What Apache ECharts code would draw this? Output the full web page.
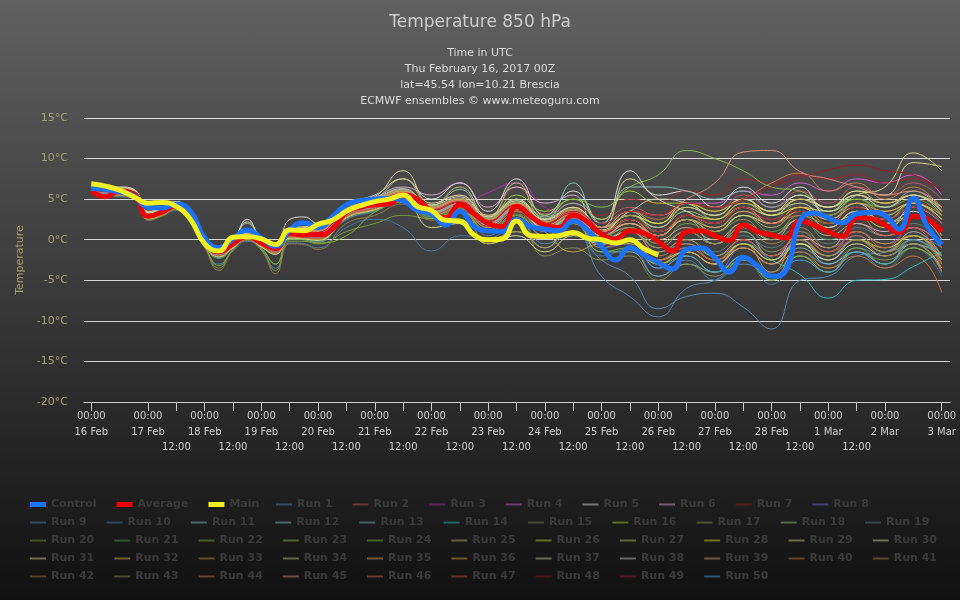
<!DOCTYPE html>
<html>
<head>
<meta charset="utf-8">
<title>Temperature 850 hPa</title>
<script src="https://cdn.jsdelivr.net/npm/echarts@6/dist/echarts.min.js"></script>
<style>
    html, body { margin: 0; padding: 0; background: #101010; }
    #chart { width: 960px; height: 600px; background: linear-gradient(to bottom, rgb(96,96,96) 0%, rgb(16,16,16) 100%); }
</style>
</head>
<body>
<div id="chart"></div>
<script type="text/javascript">
    var TITLE = 'Temperature 850 hPa';
    var SUBTITLE = ['Time in UTC', 'Thu February 16, 2017 00Z', 'lat=45.54 lon=10.21 Brescia', 'ECMWF ensembles \u00a9 www.meteoguru.com'];
    var DAY_LABELS = ['16 Feb', '17 Feb', '18 Feb', '19 Feb', '20 Feb', '21 Feb', '22 Feb', '23 Feb', '24 Feb',
        '25 Feb', '26 Feb', '27 Feb', '28 Feb', '1 Mar', '2 Mar', '3 Mar'];

    // forecast hours (6-hourly for Control / Average / Main)
    var HOURS_6 = [0, 6, 12, 18, 24, 30, 36, 42, 48, 54, 60, 66, 72, 78, 84, 90, 96, 102, 108, 114, 120, 126, 132, 138,
        144, 150, 156, 162, 168, 174, 180, 186, 192, 198, 204, 210, 216, 222, 228, 234, 240, 246, 252, 258, 264, 270,
        276, 282, 288, 294, 300, 306, 312, 318, 324, 330, 336, 342, 348, 354, 360];
    // forecast hours for ensemble runs
    var RUN_HOURS = [0, 6, 12, 18, 24, 30, 36, 42, 48, 54, 60, 66, 72, 78, 84, 90, 96, 108, 120, 132, 144, 156, 168,
        180, 192, 204, 216, 228, 240, 252, 264, 276, 288, 300, 312, 324, 336, 348, 360];

    var CONTROL = [6.3, 6.2, 5.9, 5.4, 4.0, 3.9, 4.4, 3.5, 0.2, -1.0, 0.1, 1.2, 0.2, -0.8, 1.2, 2.1, 1.5, 2.8, 4.3, 4.8,
        5.0, 5.1, 4.8, 3.6, 3.2, 1.8, 3.5, 1.6, 1.1, 1.0, 2.5, 1.6, 1.3, 1.1, 2.3, 1.2, -0.8, -2.5, -1.0, -1.9, -2.8,
        -3.6, -1.2, -1.0, -2.2, -4.0, -2.2, -3.2, -4.5, -3.8, 2.3, 3.3, 2.7, 2.1, 3.2, 3.4, 3.0, 1.3, 5.1, 1.6, -0.6];
    var AVERAGE = [6.0, 5.3, 6.0, 5.6, 2.9, 3.4, 4.2, 2.8, -0.3, -1.5, -0.5, 0.4, -0.4, -1.1, 0.8, 0.6, 0.6, 1.3, 3.4,
        4.0, 4.3, 4.4, 5.5, 5.0, 3.5, 2.7, 4.3, 3.2, 2.0, 1.6, 4.1, 2.9, 1.8, 1.5, 3.0, 2.2, 0.7, 0.1, 1.1, 0.8, -0.2,
        -1.4, 1.0, 1.1, 0.5, -0.1, 1.8, 1.0, 0.6, 0.2, 2.3, 1.8, 1.0, 0.4, 2.7, 2.6, 1.8, 0.9, 2.9, 2.5, 1.0];
    var MAIN = [6.9, 6.6, 6.1, 5.3, 4.5, 4.6, 4.1, 2.5, -0.5, -1.4, 0.3, 0.4, 0.1, -0.6, 1.2, 1.1, 1.9, 2.4, 3.5, 4.2,
        4.7, 5.0, 5.5, 4.1, 3.6, 2.4, 2.3, 0.6, 0.0, 0.1, 2.3, 0.5, 0.4, 0.5, 0.9, 0.2, 0.0, -0.4, 0.0, -1.1, -1.9];

    var RUN_01 = [6.2,5.9,5.8,5.6,2.8,3.2,4.0,2.6,-0.5,-1.9,-0.8,0.6,-0.6,-1.5,0.5,0.9,0.4, 3.0,4.0,5.6,3.2,3.8,1.5,3.0,0.5,0.8,-2.5,-4.5,-8.5,-7.0,-6.6,-8.3,-11.0,-5.0,-4.5,-2.0,-1.5,0.5,-1.0];
    var RUN_02 = [6.4,6.0,6.1,5.9,3.1,3.5,4.4,3.0,0.0,-1.2,-0.3,0.9,-0.2,-0.9,1.0,1.2,1.0, 3.8,4.6,6.0,4.0,5.5,3.0,6.5,3.2,4.5,2.5,4.0,3.0,4.5,3.5,5.5,4.0,6.0,4.5,6.5,5.5,7.0,5.0];
    var RUN_03 = [6.0,5.7,5.6,5.7,2.7,3.3,4.1,2.7,-0.4,-1.6,-0.6,0.3,-0.5,-1.2,0.7,0.5,0.4, 3.2,4.0,5.2,3.8,4.2,5.8,7.0,4.0,3.0,0.8,1.5,-1.5,-0.5,-2.0,0.0,-2.5,0.0,-2.5,0.5,-1.5,1.0,-2.0];
    var RUN_04 = [6.1,5.9,5.9,5.8,3.0,3.5,4.3,2.9,-0.2,-1.4,-0.4,0.5,-0.3,-1.0,0.9,0.7,0.8, 3.5,4.5,5.8,3.6,4.8,2.2,4.0,1.5,3.2,1.5,3.0,2.0,4.5,4.5,6.0,5.5,7.0,6.0,7.5,7.0,8.0,5.5];
    var RUN_05 = [6.6,6.4,6.5,6.2,3.5,3.9,4.7,3.3,0.4,-1.0,0.0,2.5,0.1,-0.7,2.5,2.8,2.0, 4.5,5.5,7.5,5.0,7.0,3.5,7.5,3.0,6.0,2.0,8.5,5.5,6.0,4.0,6.5,4.5,6.5,3.0,4.5,2.0,3.5,0.5];
    var RUN_06 = [6.3,6.1,6.2,6.0,3.2,3.7,4.5,3.1,0.2,-1.1,-0.2,1.0,0.0,-0.8,1.2,1.4,1.5, 4.0,5.2,6.5,5.5,7.0,4.0,6.5,4.5,5.5,-0.5,0.0,-3.0,-1.5,-3.0,-0.5,-2.5,0.5,-1.0,2.0,1.0,4.0,2.0];
    var RUN_07 = [5.9,5.6,5.5,5.5,2.6,3.1,3.9,2.5,-0.7,-2.0,-0.9,0.2,-0.8,-1.6,0.3,0.2,0.0, 2.8,3.8,5.0,3.0,4.0,1.8,3.8,2.0,4.0,3.0,5.0,4.5,6.0,5.5,7.5,7.0,8.0,7.5,8.0,7.0,7.5,6.0];
    var RUN_08 = [6.2,6.0,6.0,5.9,3.0,3.6,4.4,3.0,-0.1,-1.3,-0.3,0.6,-0.2,-0.9,1.0,0.9,1.2, 3.6,4.4,5.6,3.4,4.4,1.8,3.8,1.2,2.5,-1.0,-0.5,-3.5,-2.0,-4.0,-1.0,-3.0,0.0,-2.0,1.0,-0.5,1.5,-1.0];
    var RUN_09 = [6.0,5.8,5.7,5.6,2.7,3.2,4.0,2.6,-0.6,-2.2,-1.0,0.2,-0.9,-1.8,0.2,0.0,-0.3, 2.5,3.5,4.8,2.8,3.5,0.5,2.5,-0.5,1.0,-4.5,-7.0,-9.5,-6.0,-5.0,-3.0,-4.0,-1.5,-3.0,-1.0,-2.0,0.0,-2.5];
    var RUN_10 = [5.8,5.5,5.3,5.2,2.4,2.9,3.6,2.2,-1.0,-3.0,-1.4,-0.2,-1.3,-3.5,-0.4,-0.5,-1.0, 1.5,2.5,1.5,-1.4,0.5,0.2,2.0,-1.0,1.0,-2.0,-1.0,-4.5,-2.5,-5.0,-2.5,-5.5,-2.0,-4.0,-1.5,-3.5,-1.0,-4.5];
    var RUN_11 = [6.1,5.8,5.8,5.7,2.9,3.4,4.3,2.8,-0.3,-1.6,-0.4,0.7,-0.4,-1.2,0.9,0.8,0.7, 3.3,4.3,5.5,3.5,4.5,2.0,4.5,2.5,7.0,2.0,3.5,1.0,2.5,-0.5,1.0,-2.0,-0.5,-3.0,-1.5,-3.0,-0.5,-2.0];
    var RUN_12 = [6.5,6.2,6.3,6.1,3.3,3.8,4.6,3.2,0.3,-1.0,0.1,2.0,0.2,-0.6,1.4,1.3,1.6, 4.2,5.0,6.2,4.2,6.2,2.6,5.0,2.8,4.5,2.5,6.5,6.5,6.0,5.0,6.0,4.0,5.5,3.5,5.5,4.0,6.0,3.5];
    var RUN_13 = [5.9,5.6,5.6,5.5,2.7,3.2,4.0,2.6,-0.5,-1.8,-0.7,0.3,-0.6,-1.4,0.6,0.4,0.2, 3.0,4.0,5.2,3.2,2.0,0.0,1.0,-1.0,2.5,-1.5,-1.5,-4.5,-3.0,-4.0,-2.0,-5.0,-1.0,-2.5,0.0,-1.5,1.0,-2.0];
    var RUN_14 = [6.2,5.9,5.9,5.8,3.0,3.4,4.2,2.8,-0.3,-1.5,-0.5,0.5,-0.4,-1.1,0.8,0.7,0.6, 3.4,4.4,5.6,3.4,4.4,2.0,3.8,1.5,2.8,0.0,1.0,-1.5,-0.5,-2.0,-0.5,-2.5,-4.3,-7.2,-5.0,-4.9,-3.3,-1.5];
    var RUN_15 = [6.0,5.7,5.7,5.7,2.8,3.3,4.1,2.7,-0.4,-1.7,-0.6,0.4,-0.5,-1.3,0.7,0.5,0.5, 3.2,4.2,5.4,3.4,4.2,2.0,4.0,1.8,3.0,0.5,2.0,0.5,2.5,1.5,3.5,2.5,4.5,3.0,4.5,3.0,4.5,2.0];
    var RUN_16 = [6.4,6.1,6.0,6.0,3.1,3.6,4.4,3.0,0.0,-1.3,-0.2,0.8,-0.2,-0.9,1.1,1.0,1.1, 3.8,4.8,6.0,4.0,5.0,2.8,5.5,3.5,5.0,2.5,6.0,4.5,4.5,2.5,4.0,2.0,3.5,1.5,3.5,2.5,4.5,2.5];
    var RUN_17 = [5.9,5.7,5.6,5.6,2.7,3.2,4.0,2.6,-0.6,-2.0,-0.8,0.2,-0.7,-1.6,0.4,0.3,0.1, 2.8,3.8,5.0,3.0,3.8,1.0,3.0,-2.0,-1.0,-2.5,-2.0,-5.0,-3.0,-4.5,-2.5,-4.5,-2.0,-3.5,-1.5,-2.5,-1.0,-3.5];
    var RUN_18 = [6.2,6.0,6.0,5.9,3.0,3.5,4.3,2.9,-0.2,-1.4,-0.4,0.6,-0.3,-1.0,0.9,0.8,0.9, 3.6,4.6,5.8,3.8,4.8,2.4,4.4,2.0,3.4,1.0,3.0,1.5,3.5,2.5,4.5,3.0,5.0,3.5,5.5,4.5,5.5,3.5];
    var RUN_19 = [6.1,5.8,5.8,5.8,2.9,3.4,4.2,2.8,-0.3,-1.5,-0.5,0.4,-0.4,-1.1,0.8,0.6,0.6, 3.4,4.3,5.5,3.5,4.3,2.0,4.0,1.6,2.8,0.3,1.0,-1.5,0.0,-1.5,0.5,-1.0,1.0,-0.5,1.5,0.5,2.0,-0.5];
    var RUN_20 = [6.0,5.6,5.5,5.4,2.5,3.0,3.8,2.4,-0.8,-3.5,-1.2,0.0,-1.2,-3.8,-0.2,-0.2,-0.5, 1.0,2.0,3.0,2.6,3.5,1.0,3.0,0.5,2.0,-0.5,1.5,-0.5,2.0,1.0,3.0,2.0,4.0,3.0,5.0,4.0,5.0,3.0];
    var RUN_21 = [5.9,5.6,5.5,5.5,2.6,3.1,3.9,2.4,-0.8,-2.3,-1.1,0.1,-1.0,-3.0,0.0,0.0,-0.2, 2.6,3.6,4.8,2.8,3.8,1.2,3.2,1.0,2.5,0.0,2.5,1.0,3.0,1.5,3.0,1.0,2.5,0.0,1.0,-1.0,0.5,-2.0];
    var RUN_22 = [6.3,6.0,6.0,5.9,3.0,3.5,4.3,2.9,-0.2,-1.4,-0.4,0.6,-0.3,-1.0,0.9,0.8,0.8, 3.6,4.6,5.8,3.8,4.6,2.2,4.2,1.8,3.2,0.5,1.5,-1.0,1.0,-0.5,2.0,0.5,3.0,2.0,4.5,4.0,5.5,4.0];
    var RUN_23 = [6.1,5.9,5.8,5.7,2.9,3.4,4.2,2.8,-0.3,-1.6,-0.5,0.5,-0.4,-1.2,0.8,0.7,0.6, 3.4,4.4,5.6,3.6,4.6,2.4,4.8,3.0,5.0,4.0,6.5,8.0,11.0,10.0,8.5,6.5,6.0,4.0,5.0,3.5,4.5,2.5];
    var RUN_24 = [5.8,5.5,5.4,5.4,2.5,3.0,3.8,2.4,-0.8,-3.2,-1.2,0.0,-1.1,-3.0,0.1,0.0,-0.4, 0.5,3.4,4.6,2.6,3.6,1.0,3.0,0.5,2.0,-1.5,-1.0,-3.0,-2.0,-4.0,-2.5,-5.0,-2.0,-4.0,-1.0,-3.0,-1.0,-3.5];
    var RUN_25 = [6.3,6.1,6.1,6.0,3.1,3.6,4.4,3.0,0.0,-1.2,-0.2,0.8,-0.1,-0.9,1.1,1.1,1.2, 3.8,4.8,6.0,4.0,5.0,2.6,4.6,2.2,3.6,1.0,2.5,0.5,2.5,1.0,3.0,1.5,3.5,1.5,3.5,2.0,3.0,0.0];
    var RUN_26 = [6.0,5.8,5.7,5.7,2.8,3.3,4.1,2.7,-0.4,-1.7,-0.6,0.4,-0.5,-1.3,0.7,0.5,0.5, 3.2,4.2,5.4,3.4,4.2,1.8,3.8,1.4,2.6,-0.5,0.0,-2.5,-1.0,-2.5,-0.5,-2.5,-0.5,-2.0,0.0,-1.0,0.5,-2.5];
    var RUN_27 = [6.4,6.2,6.3,6.1,3.3,3.7,4.5,3.1,0.2,-1.0,0.0,1.0,0.1,-0.7,1.3,1.4,1.5, 4.0,5.0,7.5,4.2,6.5,2.8,7.0,2.6,4.0,1.5,3.5,2.0,4.0,3.0,5.0,3.5,5.5,4.0,6.0,4.5,5.5,3.0];
    var RUN_28 = [6.1,5.9,5.9,5.8,3.0,3.4,4.2,2.8,-0.3,-1.5,-0.4,0.5,-0.4,-1.1,0.8,0.7,0.7, 3.5,4.5,5.7,3.7,4.7,2.3,4.3,2.0,3.5,1.0,3.0,2.0,4.5,3.5,5.0,3.0,4.0,2.0,3.0,1.5,3.0,1.0];
    var RUN_29 = [6.2,6.0,6.0,5.9,3.1,3.6,4.4,3.0,-0.1,-1.3,-0.3,0.7,-0.2,-1.0,1.0,0.9,1.0, 3.7,4.7,5.9,3.9,4.9,2.5,4.5,2.0,3.5,1.0,2.5,0.5,2.5,1.0,3.0,2.0,4.0,3.5,5.5,6.5,10.7,8.5];
    var RUN_30 = [6.5,6.3,6.4,6.2,3.4,3.9,4.7,3.3,0.4,-0.9,0.1,2.2,0.2,-0.6,1.5,1.6,1.8, 4.3,5.3,8.5,4.5,5.5,3.0,5.0,2.5,4.0,1.5,7.5,5.0,3.5,2.0,4.0,3.0,5.0,4.0,6.0,5.5,9.5,9.0];
    var RUN_31 = [5.9,5.6,5.5,5.5,2.6,3.1,3.9,2.5,-0.7,-2.1,-1.0,0.1,-0.9,-1.8,0.2,0.1,-0.1, 2.7,3.7,4.9,1.5,2.0,-0.5,0.5,-1.5,0.5,-0.5,0.0,-2.5,-1.5,-3.0,-1.0,-3.0,-0.5,-2.5,-0.5,-2.0,-0.5,-3.5];
    var RUN_32 = [6.2,5.9,5.9,5.8,3.0,3.5,4.3,2.9,-0.2,-1.4,-0.4,0.6,-0.3,-1.0,0.9,0.8,0.8, 3.5,4.5,5.7,3.7,4.7,2.2,4.2,1.8,3.2,0.5,2.0,0.5,3.0,2.5,4.5,3.5,5.0,4.0,5.5,4.5,5.5,4.0];
    var RUN_33 = [6.0,5.7,5.6,5.6,2.8,3.2,4.0,2.6,-0.5,-1.9,-0.7,0.3,-0.6,-1.4,0.5,0.4,0.3, 3.0,4.0,5.2,3.2,4.2,-0.5,1.0,-1.0,2.8,0.0,1.0,-1.5,0.0,-2.0,0.0,-2.0,0.5,-1.5,1.0,-0.5,0.5,-2.0];
    var RUN_34 = [6.3,6.1,6.1,6.0,3.2,3.6,4.4,3.0,0.1,-1.2,-0.2,0.8,-0.1,-0.8,1.1,1.2,1.3, 3.9,4.9,6.1,4.1,5.1,2.6,4.6,2.2,3.6,1.2,3.0,1.5,4.0,3.0,5.0,3.5,4.5,2.5,4.0,3.0,4.5,2.5];
    var RUN_35 = [6.1,5.8,5.8,5.7,2.9,3.4,4.2,2.8,-0.3,-1.6,-0.5,0.5,-0.4,-1.2,0.8,0.6,0.6, 3.3,4.3,5.5,3.5,4.5,2.0,4.0,1.5,3.0,0.5,2.0,0.5,2.5,1.5,3.5,2.0,4.0,2.5,4.5,3.5,4.5,3.0];
    var RUN_36 = [5.9,5.6,5.6,5.5,2.6,3.1,3.9,2.5,-0.7,-2.0,-0.9,0.2,-0.8,-1.7,0.3,0.2,0.0, 2.8,3.8,5.0,3.0,4.0,1.5,3.5,1.0,-1.5,-0.5,-0.5,-3.0,-1.5,-3.0,-0.5,-4.0,0.0,-2.0,0.0,-1.5,0.5,-3.0];
    var RUN_37 = [6.4,6.2,6.2,6.1,3.3,3.8,4.6,3.2,0.3,-1.0,0.0,1.1,0.1,-0.7,1.3,1.5,1.6, 4.1,5.1,6.3,4.3,5.3,2.8,4.8,2.4,3.8,1.5,3.5,5.0,4.5,3.0,5.0,3.5,5.5,4.0,5.5,4.0,5.5,3.5];
    var RUN_38 = [6.0,5.8,5.7,5.7,2.8,3.3,4.1,2.7,-0.4,-1.8,-0.6,0.4,-0.5,-1.3,0.6,0.5,0.4, 3.1,4.1,5.3,3.3,4.3,1.8,3.8,1.4,2.8,0.0,1.0,-1.0,1.0,-0.5,1.5,0.0,2.5,1.5,3.5,2.5,4.0,2.0];
    var RUN_39 = [6.2,6.0,6.0,5.9,3.1,3.5,4.3,2.9,-0.2,-1.4,-0.3,0.6,-0.3,-1.0,0.9,0.9,0.9, 3.6,4.6,5.8,3.8,4.8,2.4,4.4,2.0,3.5,1.0,2.0,0.0,1.5,0.0,2.0,0.5,2.5,0.5,2.0,0.5,1.5,-1.0];
    var RUN_40 = [6.0,5.7,5.6,5.6,2.7,3.2,4.0,2.6,-0.5,-1.9,-0.8,0.3,-0.6,-1.5,0.5,0.3,0.2, 3.0,4.0,5.2,3.2,4.0,1.5,3.5,1.0,2.0,-1.0,0.0,-2.0,-0.5,-2.5,-1.0,-3.0,-1.5,-3.5,-2.0,-3.5,-2.0,-6.5];
    var RUN_41 = [6.3,6.1,6.1,6.0,3.2,3.7,4.5,3.1,0.1,-1.1,-0.1,0.9,0.0,-0.8,1.2,1.2,1.3, 3.9,4.9,6.1,4.1,5.1,2.6,4.6,2.2,3.8,1.5,3.0,1.0,2.5,1.0,2.5,0.0,1.5,-1.0,0.5,-1.5,0.0,-3.0];
    var RUN_42 = [5.8,5.5,5.4,5.3,2.4,2.9,3.7,2.3,-0.9,-3.8,-1.3,-0.1,-1.3,-4.2,-0.5,-0.6,-1.2, 2.0,3.0,4.4,2.4,3.4,1.0,3.0,0.5,2.0,-0.5,1.0,-1.0,1.0,-0.5,1.5,-0.5,1.0,-1.5,0.0,-2.0,-0.5,-4.0];
    var RUN_43 = [6.1,5.9,5.8,5.8,2.9,3.4,4.2,2.8,-0.3,-1.5,-0.5,0.5,-0.4,-1.1,0.8,0.7,0.7, 3.4,4.4,5.6,3.6,4.4,2.0,4.0,1.6,3.0,0.5,1.5,-0.5,1.0,-0.5,1.0,-1.5,0.0,-2.0,0.0,-1.5,-0.5,-4.0];
    var RUN_44 = [6.2,5.9,5.9,5.8,3.0,3.5,4.3,2.9,-0.2,-1.4,-0.4,0.6,-0.3,-1.0,0.9,0.8,0.9, 3.6,4.6,5.8,3.8,4.8,2.4,4.4,2.2,3.6,1.5,3.5,2.5,4.5,4.0,5.0,7.0,8.2,6.0,7.0,5.0,6.5,3.5];
    var RUN_45 = [6.0,5.8,5.7,5.7,2.8,3.3,4.1,2.7,-0.4,-1.7,-0.6,0.4,-0.5,-1.3,0.7,0.5,0.5, 3.2,4.2,5.4,3.4,4.4,2.0,4.2,2.0,3.5,1.5,3.5,3.0,5.0,7.0,10.8,11.0,8.4,7.5,6.5,5.5,6.0,4.0];
    var RUN_46 = [6.3,6.0,6.0,5.9,3.1,3.6,4.4,3.0,-0.1,-1.3,-0.3,0.7,-0.2,-0.9,1.0,1.0,1.1, 3.7,4.7,5.9,3.9,4.9,2.4,4.4,2.0,3.4,1.0,2.5,0.5,3.0,2.0,4.0,2.0,3.0,1.0,3.0,0.5,1.5,-4.0];
    var RUN_47 = [5.9,5.7,5.6,5.6,2.7,3.2,4.0,2.6,-0.6,-1.9,-0.8,0.3,-0.7,-1.5,0.4,0.3,0.2, 2.9,3.9,5.1,3.1,4.1,1.6,3.6,1.2,2.6,-0.5,0.0,-2.5,-1.0,-2.5,0.0,-2.0,0.5,-1.5,1.0,-1.0,1.5,-1.0];
    var RUN_48 = [6.1,5.9,5.8,5.8,2.9,3.4,4.2,2.8,-0.3,-1.5,-0.5,0.5,-0.4,-1.1,0.8,0.7,0.7, 3.4,4.4,5.6,3.6,4.6,2.2,4.2,2.0,3.5,2.0,3.5,3.0,4.5,4.0,5.0,6.5,7.6,8.6,9.2,8.5,8.0,6.0];
    var RUN_49 = [6.2,6.0,5.9,5.9,3.0,3.5,4.3,2.9,-0.2,-1.4,-0.4,0.6,-0.3,-1.0,0.9,0.8,0.9, 3.5,4.5,5.7,3.7,4.7,2.3,4.3,1.9,3.3,0.8,2.5,1.0,3.0,2.0,4.0,2.5,3.5,2.0,4.0,2.5,4.0,2.0];
    var RUN_50 = [6.0,5.7,5.7,5.6,2.8,3.3,4.1,2.7,-0.5,-1.8,-0.7,0.3,-0.6,-1.4,0.6,0.4,0.3, 3.1,4.1,5.3,3.3,4.3,1.8,3.8,1.2,2.5,-0.5,0.0,-3.5,-2.0,-4.0,-2.0,-4.5,-2.5,-4.0,-1.5,-3.0,0.0,-2.0];

    var RUN_COLORS = ['#5b8db5', '#c85468', '#b030b0', '#d860d8', '#e8e8e8', '#e0b0d8', '#a82030', '#7070e8', '#5a8cc0', '#4a7cb0',
        '#80d0c0', '#90c0c0', '#80b8a8', '#30c0c0', '#808870', '#a8d038', '#8c9450', '#a0c890', '#608080', '#7ca040',
        '#5c9c5c', '#7cb048', '#88c048', '#80b838', '#b8b870', '#c0e038', '#c0c870', '#d8e828', '#d8d880', '#e0e0a0',
        '#e0e098', '#e0b848', '#c09838', '#c8c880', '#f0a060', '#c8a838', '#d0d0b8', '#c8c8c8', '#d8a880', '#d07838',
        '#989048', '#987c44', '#909060', '#d08048', '#e09080', '#e06060', '#d05050', '#a01828', '#b01838', '#48a8e0'];

    var RUNS = [RUN_01, RUN_02, RUN_03, RUN_04, RUN_05, RUN_06, RUN_07, RUN_08, RUN_09, RUN_10,
        RUN_11, RUN_12, RUN_13, RUN_14, RUN_15, RUN_16, RUN_17, RUN_18, RUN_19, RUN_20,
        RUN_21, RUN_22, RUN_23, RUN_24, RUN_25, RUN_26, RUN_27, RUN_28, RUN_29, RUN_30,
        RUN_31, RUN_32, RUN_33, RUN_34, RUN_35, RUN_36, RUN_37, RUN_38, RUN_39, RUN_40,
        RUN_41, RUN_42, RUN_43, RUN_44, RUN_45, RUN_46, RUN_47, RUN_48, RUN_49, RUN_50];

    function pairs(hours, values) {
        return values.map(function (v, i) { return [hours[i], v]; });
    }

    var chart = echarts.init(document.getElementById('chart'));

    var FONT = 'DejaVu Sans';
    var LEGEND_TEXT = {color: '#3a3a3a', fontSize: 11, fontWeight: 'bold', fontFamily: FONT};

    var series = [];
    var runNames = [];
    RUNS.forEach(function (vals, i) {
        var name = 'Run ' + (i + 1);
        runNames.push(name);
        series.push({
            name: name,
            type: 'line',
            xAxisIndex: 1,
            yAxisIndex: 1,
            data: pairs(RUN_HOURS, vals),
            smooth: 0.5,
            symbol: 'none',
            color: RUN_COLORS[i],
            lineStyle: {width: 1, opacity: 0.95},
            z: 2,
            silent: true
        });
    });
    series.push({
        name: 'Average', type: 'line', xAxisIndex: 1, yAxisIndex: 1,
        data: pairs(HOURS_6, AVERAGE), smooth: 0.5, symbol: 'none',
        color: '#ee0000', lineStyle: {width: 5}, z: 3
    });
    series.push({
        name: 'Control', type: 'line', xAxisIndex: 1, yAxisIndex: 1,
        data: pairs(HOURS_6, CONTROL), smooth: 0.5, symbol: 'none',
        color: '#1a72ff', lineStyle: {width: 5}, z: 4
    });
    series.push({
        name: 'Main', type: 'line', xAxisIndex: 1, yAxisIndex: 1,
        data: pairs(HOURS_6, MAIN), smooth: 0.5, symbol: 'none',
        color: '#f0f020', lineStyle: {width: 5}, z: 5
    });

    function runLegend(names, left, top) {
        return {
            left: left, top: top, padding: 0,
            itemWidth: 16, itemHeight: 2, itemGap: 20, icon: 'rect',
            textStyle: LEGEND_TEXT,
            data: names.map(function (n) { return {name: n, itemStyle: {opacity: 0.45}}; })
        };
    }

    var option = {
        animation: false,
        textStyle: {fontFamily: FONT},
        title: [{
            text: TITLE,
            left: 'center',
            top: 9,
            textStyle: {color: '#cccccc', fontSize: 17, fontWeight: 'normal', fontFamily: FONT}
        }, {
            text: SUBTITLE.join('\n'),
            left: 'center',
            top: 40,
            textStyle: {color: '#dddddd', fontSize: 11, lineHeight: 16, fontWeight: 'normal', fontFamily: FONT}
        }],
        legend: [
            {
                left: 30, top: 499, padding: 0,
                itemWidth: 16, itemHeight: 5, itemGap: 20, icon: 'rect',
                textStyle: LEGEND_TEXT,
                data: ['Control', 'Average', 'Main']
            },
            runLegend(runNames.slice(0, 8), 276, 499),
            runLegend(runNames.slice(8, 19), 30, 517),
            runLegend(runNames.slice(19, 30), 30, 535),
            runLegend(runNames.slice(30, 41), 30, 553),
            runLegend(runNames.slice(41, 50), 30, 571)
        ],
        grid: [
            {left: 84, right: 10, top: 118, bottom: 198},
            {left: 91.3, right: 18.3, top: 118, bottom: 198}
        ],
        xAxis: [{
            gridIndex: 0,
            type: 'value',
            min: 0,
            max: 1,
            axisLine: {show: true, onZero: false, lineStyle: {color: '#cccccc', width: 1}},
            axisTick: {show: false},
            axisLabel: {show: false},
            splitLine: {show: false}
        }, {
            gridIndex: 1,
            type: 'value',
            min: 0,
            max: 360,
            interval: 12,
            axisLine: {show: false, onZero: false},
            axisTick: {show: true, length: 9, lineStyle: {color: '#cccccc', width: 1}},
            axisLabel: {
                color: '#cfcfcf',
                fontSize: 10,
                lineHeight: 15.5,
                margin: 7,
                showMinLabel: true,
                showMaxLabel: true,
                formatter: function (value) {
                    if (value % 24 === 0) {
                        return '00:00\n' + DAY_LABELS[Math.round(value / 24)];
                    }
                    return '\n\n12:00';
                }
            },
            splitLine: {show: false}
        }],
        yAxis: [{
            gridIndex: 0,
            type: 'value',
            min: -20,
            max: 15,
            interval: 5,
            name: 'Temperature',
            nameLocation: 'middle',
            nameGap: 55,
            nameTextStyle: {color: '#a3a370', fontSize: 11, fontFamily: FONT},
            axisLine: {show: false},
            axisTick: {show: false},
            axisLabel: {formatter: '{value}\u00b0C', color: '#a3a370', fontSize: 11, margin: 16},
            splitLine: {show: true, lineStyle: {color: 'rgba(255,255,255,0.8)', width: 1}}
        }, {
            gridIndex: 1,
            type: 'value',
            min: -20,
            max: 15,
            interval: 5,
            show: false,
            splitLine: {show: false}
        }],
        series: series
    };

    chart.setOption(option);
</script>
</body>
</html>
